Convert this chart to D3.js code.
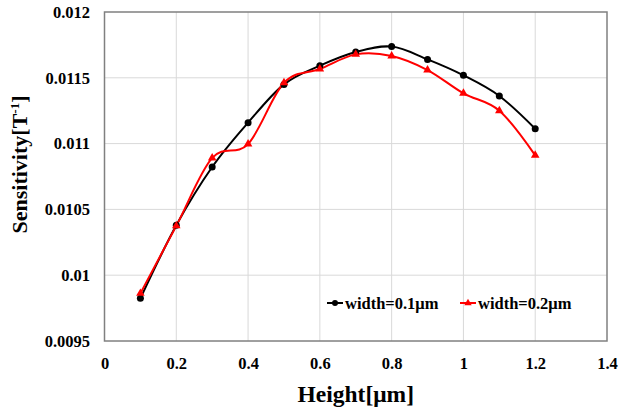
<!DOCTYPE html>
<html>
<head>
<meta charset="utf-8">
<script src="https://cdn.jsdelivr.net/npm/d3@7"></script>
<style>
  html, body { margin: 0; padding: 0; background: #fff; }
  svg { display: block; font-family: "Liberation Serif", "Times New Roman", serif; }
</style>
</head>
<body>
<svg id="chart" width="621" height="412"></svg>
<script>
// Sensor sensitivity versus magnet height for two widths
const heights = [0.1, 0.2, 0.3, 0.4, 0.5, 0.6, 0.7, 0.8, 0.9, 1.0, 1.1, 1.2];
const width01 = [0.009824, 0.010379, 0.010822, 0.011159, 0.01145, 0.011592, 0.011696, 0.011737, 0.01164, 0.011519, 0.011362, 0.011113];
const width02 = [0.009862, 0.010375, 0.010891, 0.010997, 0.011462, 0.011567, 0.011678, 0.011666, 0.011559, 0.011382, 0.01125, 0.010911];
const seriesNames = ["width=0.1\u03bcm", "width=0.2\u03bcm"];
const xTicks = [0, 0.2, 0.4, 0.6, 0.8, 1, 1.2, 1.4];
const yTicks = [0.0095, 0.01, 0.0105, 0.011, 0.0115, 0.012];

const svg = d3.select("#chart");
const m = { left: 104.5, right: 607, top: 12, bottom: 341 };

const x = d3.scaleLinear().domain([0, 1.4]).range([m.left, m.right]);
const y = d3.scaleLinear().domain([0.0095, 0.012]).range([m.bottom, m.top]);

// grid
const grid = svg.append("g");
grid.selectAll("line.v").data(xTicks.slice(1, -1)).join("line")
  .attr("x1", d => x(d)).attr("x2", d => x(d))
  .attr("y1", m.top).attr("y2", m.bottom)
  .attr("stroke", "#d9d9d9").attr("stroke-width", 1);
grid.selectAll("line.h").data(yTicks.slice(1, -1)).join("line")
  .attr("x1", m.left).attr("x2", m.right)
  .attr("y1", d => y(d)).attr("y2", d => y(d))
  .attr("stroke", "#d9d9d9").attr("stroke-width", 1);

// frame
svg.append("rect")
  .attr("x", m.left).attr("y", m.top)
  .attr("width", m.right - m.left).attr("height", m.bottom - m.top)
  .attr("fill", "none").attr("stroke", "#808080").attr("stroke-width", 1.5);

// axes (labels only)
const fmt = d => String(+d.toFixed(4));
const xAxis = svg.append("g").attr("transform", `translate(0,${m.bottom})`)
  .call(d3.axisBottom(x).tickValues(xTicks).tickFormat(fmt).tickSize(0).tickPadding(16));
const yAxis = svg.append("g").attr("transform", `translate(${m.left},0)`)
  .call(d3.axisLeft(y).tickValues(yTicks).tickFormat(fmt).tickSize(0).tickPadding(14.5));
[xAxis, yAxis].forEach(a => {
  a.select(".domain").remove();
  a.selectAll("text")
    .attr("font-family", "'Liberation Serif', serif")
    .attr("font-size", 16.5).attr("font-weight", "bold").attr("fill", "#000");
});

// series
const line = d3.line().x(d => x(d[0])).y(d => y(d[1])).curve(d3.curveCardinal.tension(0));
const pts01 = heights.map((h, i) => [h, width01[i]]);
const pts02 = heights.map((h, i) => [h, width02[i]]);

svg.append("path").datum(pts01).attr("d", line)
  .attr("fill", "none").attr("stroke", "#000").attr("stroke-width", 2);
svg.append("path").datum(pts02).attr("d", line)
  .attr("fill", "none").attr("stroke", "#ff0000").attr("stroke-width", 2);

const tri = d3.symbol().type(d3.symbolTriangle).size(32);
svg.append("g").selectAll("circle").data(pts01).join("circle")
  .attr("cx", d => x(d[0])).attr("cy", d => y(d[1])).attr("r", 3.5).attr("fill", "#000");
svg.append("g").selectAll("path").data(pts02).join("path")
  .attr("d", tri).attr("transform", d => `translate(${x(d[0])},${y(d[1])})`)
  .attr("fill", "#ff0000");

// legend
const lg = svg.append("g").attr("font-family", "'Liberation Serif', serif")
  .attr("font-size", 16.5).attr("font-weight", "bold");
const legendItems = [
  { name: seriesNames[0], color: "#000", x0: 327, mark: "circle" },
  { name: seriesNames[1], color: "#ff0000", x0: 460, mark: "tri" }
];
legendItems.forEach(it => {
  const g = lg.append("g").attr("transform", `translate(${it.x0},303)`);
  g.append("line").attr("x1", 0).attr("x2", 16).attr("y1", 0).attr("y2", 0)
    .attr("stroke", it.color).attr("stroke-width", 2);
  if (it.mark === "circle") {
    g.append("circle").attr("cx", 8).attr("cy", 0).attr("r", 3).attr("fill", it.color);
  } else {
    g.append("path").attr("d", d3.symbol().type(d3.symbolTriangle).size(24)())
      .attr("transform", "translate(8,0)").attr("fill", it.color);
  }
  g.append("text").attr("x", 18).attr("y", 5.5).attr("fill", "#000").text(it.name);
});

// axis titles
svg.append("text")
  .attr("x", x(0.7)).attr("y", 402)
  .attr("text-anchor", "middle")
  .attr("font-size", 23.5).attr("font-weight", "bold").attr("fill", "#000")
  .text("Height[\u03bcm]");

const yt = svg.append("text")
  .attr("transform", `translate(27,${(m.top + m.bottom) / 2 - 12}) rotate(-90)`)
  .attr("text-anchor", "middle")
  .attr("font-size", 22).attr("font-weight", "bold").attr("fill", "#000");
yt.append("tspan").text("Sensitivity[T");
yt.append("tspan").attr("font-size", 13).attr("dy", -8).text("-1");
yt.append("tspan").attr("dy", 8).text("]");
</script>
</body>
</html>
